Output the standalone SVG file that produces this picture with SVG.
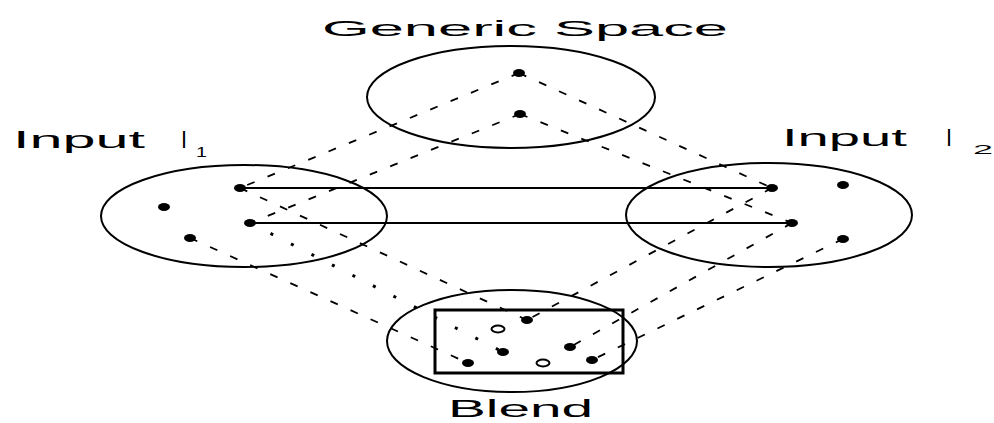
<svg xmlns="http://www.w3.org/2000/svg" width="994" height="423" viewBox="0 0 994 423">
<style>
.space{fill:none;stroke:#000;stroke-width:2}
.dot{fill:#000}
.hollow{fill:#fff;stroke:#000;stroke-width:2}
.solid{stroke:#000;stroke-width:2;fill:none}
.dash{stroke:#000;stroke-width:1.8;stroke-dasharray:8 14;fill:none}
.dotted{stroke:#000;stroke-width:3;stroke-dasharray:3 20;fill:none}
.lbl{font-family:"Liberation Sans","DejaVu Sans",sans-serif;fill:#000}
</style>
<rect width="994" height="423" fill="#fff"/>
<g id="connectors">
<line class="dash" x1="519" y1="73" x2="240" y2="188"/>
<line class="dash" x1="519" y1="73" x2="772" y2="188"/>
<line class="dash" x1="520" y1="114" x2="250" y2="223"/>
<line class="dash" x1="520" y1="114" x2="792" y2="223"/>
<line class="dash" x1="240" y1="188" x2="527" y2="320"/>
<line class="dash" x1="190" y1="238" x2="468" y2="363"/>
<line class="dash" x1="772" y1="188" x2="527" y2="320"/>
<line class="dash" x1="792" y1="223" x2="570" y2="347"/>
<line class="dash" x1="843" y1="239" x2="592" y2="360"/>
<line class="dotted" x1="250" y1="223" x2="503" y2="352"/>
<line class="solid" x1="240" y1="188" x2="772" y2="188"/>
<line class="solid" x1="250" y1="223" x2="792" y2="223"/>
</g>
<g id="generic">
<ellipse class="space" cx="511" cy="97" rx="144" ry="51"/>
<ellipse class="dot" cx="519" cy="73" rx="6" ry="4"/>
<ellipse class="dot" cx="520" cy="114" rx="6" ry="4"/>
<text class="lbl" x="322" y="36" font-size="22"><tspan textLength="406" lengthAdjust="spacingAndGlyphs">Generic Space</tspan></text>
</g>
<g id="input1">
<ellipse class="space" cx="244" cy="216" rx="143" ry="51"/>
<ellipse class="dot" cx="240" cy="188" rx="6" ry="4"/>
<ellipse class="dot" cx="164" cy="207" rx="6" ry="4"/>
<ellipse class="dot" cx="250" cy="223" rx="6" ry="4"/>
<ellipse class="dot" cx="190" cy="238" rx="6" ry="4"/>
<text class="lbl" x="13" y="148" font-size="24"><tspan textLength="132" lengthAdjust="spacingAndGlyphs">Input</tspan><tspan x="181" textLength="6" lengthAdjust="spacingAndGlyphs">I</tspan><tspan x="196" y="157" font-size="14" textLength="11" lengthAdjust="spacingAndGlyphs">1</tspan></text>
</g>
<g id="input2">
<ellipse class="space" cx="769" cy="215" rx="143" ry="52"/>
<ellipse class="dot" cx="772" cy="188" rx="6" ry="4"/>
<ellipse class="dot" cx="843" cy="185" rx="6" ry="4"/>
<ellipse class="dot" cx="792" cy="223" rx="6" ry="4"/>
<ellipse class="dot" cx="843" cy="239" rx="6" ry="4"/>
<text class="lbl" x="782" y="146" font-size="24"><tspan textLength="125" lengthAdjust="spacingAndGlyphs">Input</tspan><tspan x="946" textLength="6" lengthAdjust="spacingAndGlyphs">I</tspan><tspan x="973" y="154" font-size="12" textLength="20" lengthAdjust="spacingAndGlyphs">2</tspan></text>
</g>
<g id="blend">
<ellipse class="space" cx="512" cy="341" rx="125" ry="51"/>
<rect x="435" y="310" width="188" height="63" fill="none" stroke="#000" stroke-width="3"/>
<ellipse class="dot" cx="527" cy="320" rx="6" ry="4"/>
<ellipse class="dot" cx="570" cy="347" rx="6" ry="4"/>
<ellipse class="dot" cx="503" cy="352" rx="6" ry="4"/>
<ellipse class="dot" cx="468" cy="363" rx="6" ry="4"/>
<ellipse class="dot" cx="592" cy="360" rx="6" ry="4"/>
<ellipse class="hollow" cx="498" cy="329" rx="6.5" ry="3.5"/>
<ellipse class="hollow" cx="543" cy="363" rx="6.5" ry="3.5"/>
<text class="lbl" x="448" y="417" font-size="23"><tspan textLength="145" lengthAdjust="spacingAndGlyphs">Blend</tspan></text>
</g>
</svg>
